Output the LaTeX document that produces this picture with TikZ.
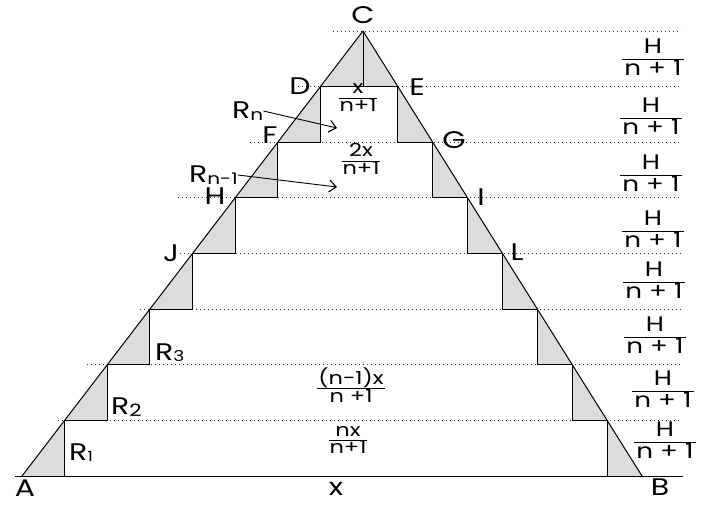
\documentclass[tikz,border=0pt]{standalone}
\usepackage{fontspec}
\setmainfont{Poppins}[FakeStretch=1.25]
\usetikzlibrary{arrows.meta}
\definecolor{shadegray}{HTML}{DCDCDC}
\newcommand{\HFrac}[2]{{\setlength{\tabcolsep}{2pt}\setlength{\arrayrulewidth}{1.5pt}\renewcommand{\arraystretch}{0.8}\begin{tabular}{c}#1\\\hline #2\end{tabular}}}
\newcommand{\MFrac}[2]{{\setlength{\tabcolsep}{1pt}\setlength{\arrayrulewidth}{0.9pt}\renewcommand{\arraystretch}{0.75}\begin{tabular}{c}#1\\\hline #2\end{tabular}}}
\begin{document}
\begin{tikzpicture}[x=1pt,y=-1pt,
  edge/.style={line width=1pt,line cap=round,line join=round},
  stair/.style={line width=0.8pt},
  dotline/.style={line width=0.8pt,dash pattern=on 0.8pt off 3.2pt,black!80},
  lab/.style={inner sep=0pt,font=\fontsize{24}{24}\selectfont},
  hfr/.style={inner sep=0pt,font=\fontsize{21}{21}\selectfont},
  mfr/.style={inner sep=0pt,font=\fontsize{18}{18}\selectfont},
  arr/.style={line width=0.9pt,-{Straight Barb[length=7pt,width=12pt,line width=1.1pt]}},
]
\useasboundingbox (0,0) rectangle (701,504);
% dotted level lines
\foreach \k/\xs in {0/333,1/298,2/250,3/178,4/180,5/140,6/87,7/58} {
  \pgfmathsetmacro\yy{31+55.625*\k}
  \draw[dotline] (\xs,\yy) -- (681,\yy);
}
% staircase
\foreach \k in {1,...,8} {
  \pgfmathsetmacro\ya{31+55.625*(\k-1)}
  \pgfmathsetmacro\yb{31+55.625*\k}
  \pgfmathsetmacro\xla{363-42.625*(\k-1)}
  \pgfmathsetmacro\xlb{363-42.625*\k}
  \pgfmathsetmacro\xra{363+34.875*(\k-1)}
  \pgfmathsetmacro\xrb{363+34.875*\k}
  \fill[shadegray] (\xla,\ya) -- (\xlb,\yb) -- (\xla,\yb) -- cycle;
  \fill[shadegray] (\xra,\ya) -- (\xrb,\yb) -- (\xra,\yb) -- cycle;
  \draw[stair] (\xla,\ya) -- (\xla,\yb) -- (\xlb,\yb);
  \draw[stair] (\xra,\ya) -- (\xra,\yb) -- (\xrb,\yb);
}
% triangle
\coordinate (A) at (22,476);
\coordinate (C) at (363,31);
\coordinate (B) at (642,476);
\coordinate (BL) at (15,476);
\coordinate (BR) at (683,476);
\draw[edge] (A) -- (C) -- (B);
\draw[stair] (BL) -- (BR);
% point labels
\node[lab] (lC) at (363,15) {C};
\node[lab] (lD) at (300,86) {D};
\node[lab] (lE) at (417,87) {E};
\node[lab] (lF) at (270,135) {F};
\node[lab] (lG) at (454,140) {G};
\node[lab] (lH) at (215,196) {H};
\node[lab] (lI) at (481,197) {I};
\node[lab] (lJ) at (171,253) {J};
\node[lab] (lL) at (517,252) {L};
\node[lab] (lA) at (25,488) {A};
\node[lab] (lB) at (660,487) {B};
\node[lab] (lx) at (336,489) {x};
% R labels
\node[lab,anchor=west] (Rn) at (232,111) {R\raisebox{-2pt}{\fontsize{16}{16}\selectfont n}};
\node[lab,anchor=west] (Rn1) at (189,175) {R\raisebox{-2pt}{\fontsize{16}{16}\selectfont n-1}};
\node[lab,anchor=west] (R1) at (69,453) {R\raisebox{-1pt}{\fontsize{14}{14}\selectfont 1}};
\node[lab,anchor=west] (R2) at (111,407) {R\raisebox{-2pt}{\fontsize{17}{17}\selectfont 2}};
\node[lab,anchor=west] (R3) at (155,353) {R\raisebox{-1pt}{\fontsize{15}{15}\selectfont 3}};
\coordinate (tipRn) at (337,128);
\coordinate (tipRn1) at (337,187);
\draw[arr] (Rn.east) -- (tipRn);
\draw[arr] (Rn1.east) -- (tipRn1);
% middle fractions
\node[mfr] (f1) at (358,100) {\MFrac{x}{n+1}};
\node[mfr] (f2) at (361,161) {\MFrac{2x}{n+1}};
\node[mfr] (f3) at (351,387) {\MFrac{(n-1)x}{n +1}};
\node[mfr] (f4) at (348,442) {\MFrac{nx}{n+1}};
% right fractions
\node[hfr] (h1) at (653,60) {\HFrac{H}{n + 1}};
\node[hfr] (h2) at (651,119) {\HFrac{H}{n + 1}};
\node[hfr] (h3) at (651,176) {\HFrac{H}{n + 1}};
\node[hfr] (h4) at (653,232) {\HFrac{H}{n + 1}};
\node[hfr] (h5) at (654,283) {\HFrac{H}{n + 1}};
\node[hfr] (h6) at (655,338) {\HFrac{H}{n + 1}};
\node[hfr] (h7) at (663,392) {\HFrac{H}{n + 1}};
\node[hfr] (h8) at (665,443) {\HFrac{H}{n + 1}};
\end{tikzpicture}
\end{document}
